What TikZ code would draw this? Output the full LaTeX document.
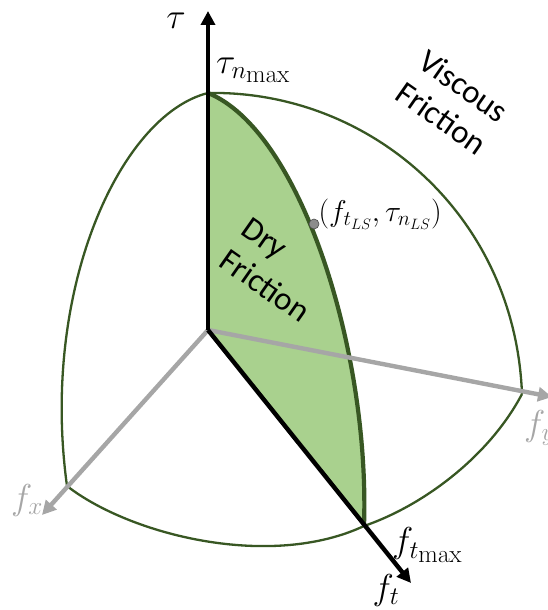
\RequirePackage{fix-cm}
\documentclass[tikz,border=0pt]{standalone}
\usepackage[no-math]{fontspec}
\usepackage{amsmath}
\setmainfont{Carlito}
\usepackage{tikz}
\usetikzlibrary{arrows.meta, positioning}
\definecolor{frictionGreen}{RGB}{169, 209, 142}
\definecolor{edgeGreen}{RGB}{56, 87, 35}
\definecolor{axisGrey}{RGB}{166, 166, 166}
\newcommand{\lblsize}{\fontsize{33}{39}\selectfont}
\newcommand{\symsize}{\fontsize{36}{40}\selectfont}

\begin{document}
\begin{tikzpicture}[x=1pt, y=-1pt,
  shell/.style={draw=edgeGreen, line width=2.3pt},
  axis/.style={-{Triangle[length=14pt, width=14pt]}, line width=4.4pt},
  greyaxis/.style={axis, axisGrey},
  lbl/.style={font=\lblsize, inner sep=0pt, align=left},
  sym/.style={font=\symsize, inner sep=0pt},
  point/.style={circle, draw=black!70, fill=black!45, line width=0.6pt, minimum size=10pt, inner sep=0pt},
]
  \useasboundingbox (0,0) rectangle (547,610);

  % Axis ends and corners of the shell
  \coordinate (origin) at (208,330);
  \coordinate (tautip) at (208,11);
  \coordinate (fttip) at (411,583);
  \coordinate (fxtip) at (42,515);
  \coordinate (fytip) at (552,397);
  \coordinate (taumax) at (208,93);
  \coordinate (ftmax) at (364,526);
  \coordinate (fxmax) at (67,486);
  \coordinate (fymax) at (522,394);

  % Dry friction patch
  \path[fill=frictionGreen] (origin) -- (taumax)
    .. controls (300,130) and (370,350) .. (ftmax) -- cycle;

  % Shell outline
  \draw[shell] (taumax) .. controls (370,90) and (515,215) .. (fymax);
  \draw[shell] (taumax) .. controls (120,115) and (40,290) .. (fxmax);
  \draw[shell] (fxmax) .. controls (130,535) and (270,570) .. (ftmax);
  \draw[shell] (ftmax) .. controls (425,505) and (490,455) .. (fymax);
  \draw[shell, line width=4.2pt] (taumax) .. controls (300,130) and (370,350) .. (ftmax);

  % Axes
  \draw[greyaxis] (origin) -- (fxtip);
  \draw[greyaxis] (origin) -- (fytip);
  \draw[axis] (origin) -- (tautip);
  \draw[axis] (origin) -- (fttip);

  % Limit surface point
  \node[point] (lspoint) at (314,224) {};
  \node[sym, font=\fontsize{30}{34}\selectfont, right=-1pt of lspoint, yshift=10pt] (lslabel)
    {$(f_{t_{LS}},\tau_{n_{LS}})$};

  % Labels
  \node[sym] (taulabel) at (176,21) {$\tau$};
  \node[sym, anchor=west] (taumaxlabel) at (216,70) {$\tau_{n_{\scriptstyle\mathrm{max}}}$};
  \node[sym, anchor=west] (ftmaxlabel) at (392,545) {$f_{t_{\scriptstyle\mathrm{max}}}$};
  \node[sym] (ftlabel) at (386,590) {$f_t$};
  \node[sym, text=axisGrey] (fxlabel) at (27,500) {$f_x$};
  \node[sym, text=axisGrey, anchor=west] (fylabel) at (524,428) {$f_y$};
  \node[lbl, rotate=-35] (dry) at (276,270) {Dry\\Friction};
  \node[lbl, rotate=-35] (viscous) at (453,102) {Viscous\\Friction};
\end{tikzpicture}
\end{document}
